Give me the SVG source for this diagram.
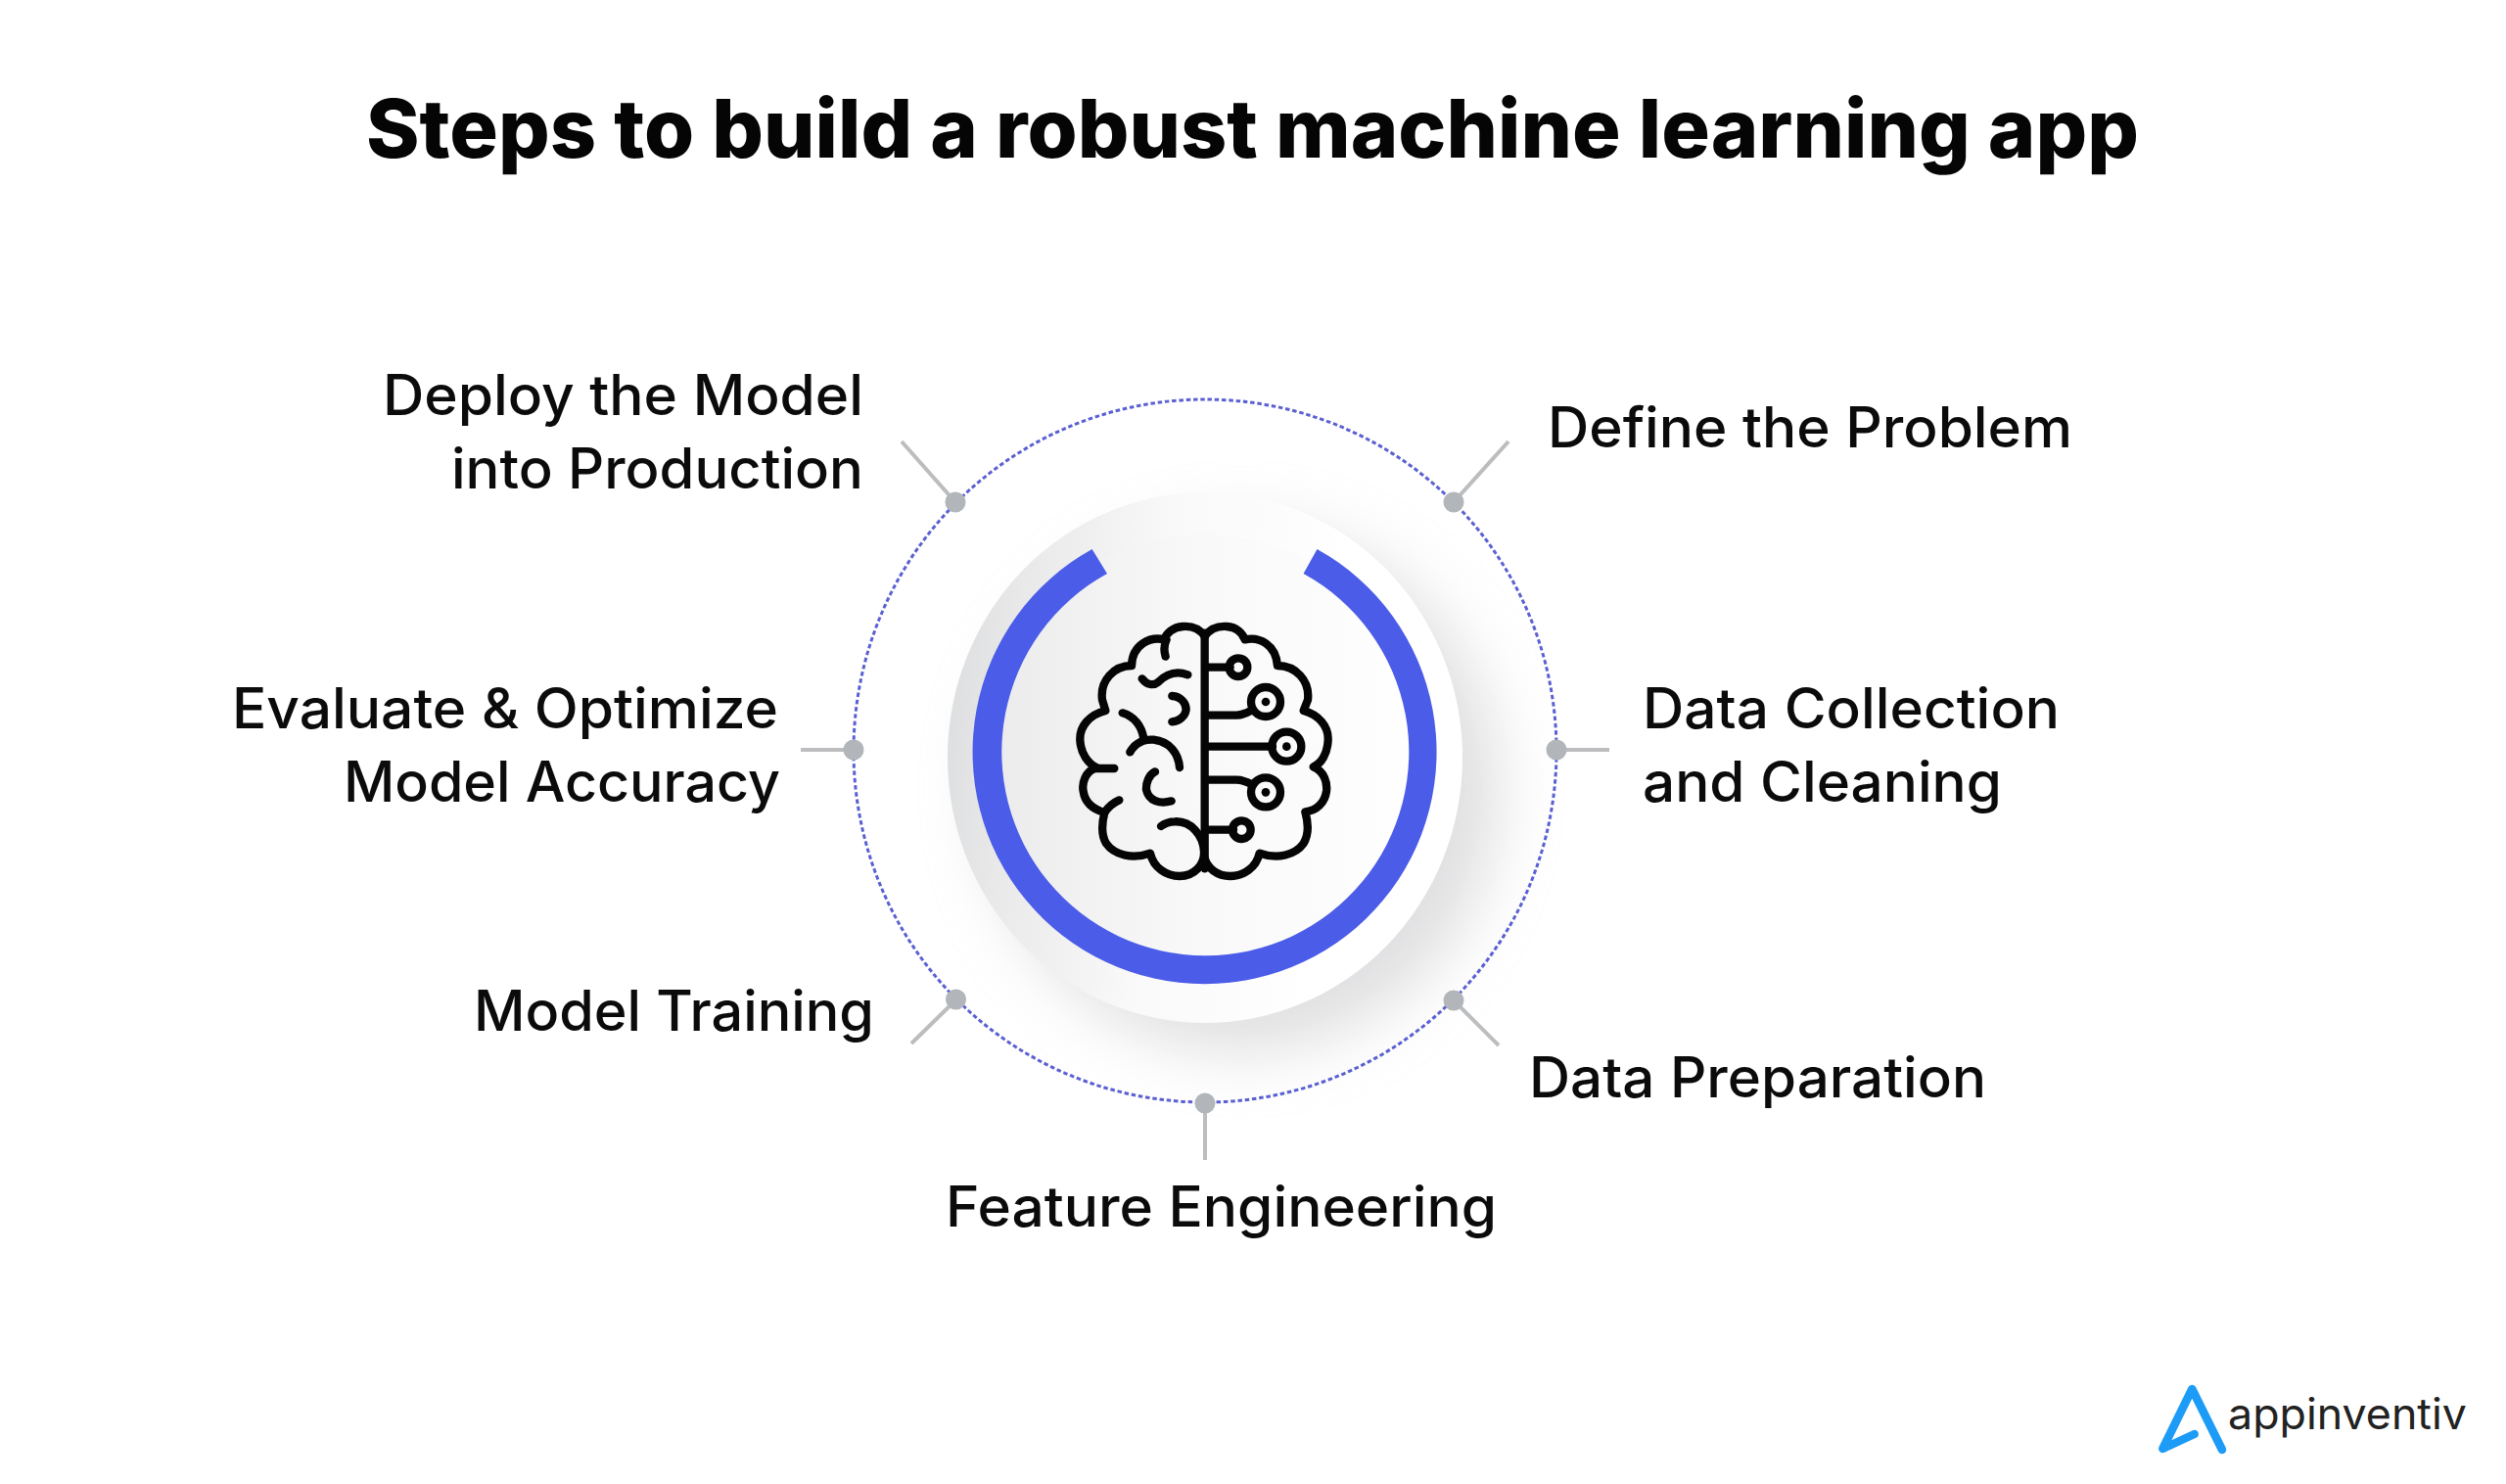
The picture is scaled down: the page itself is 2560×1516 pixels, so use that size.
<svg xmlns="http://www.w3.org/2000/svg" width="2560" height="1516" viewBox="0 0 2560 1516">
<style>
text{font-family:"Inter","Liberation Sans",sans-serif;fill:#0b0b0b}
.title{font-size:83px;font-weight:800;fill:#050505}
.lb{font-size:57px;font-weight:500}
.lead{stroke:#bcbdbf;stroke-width:4;fill:none}
.dot{fill:#b2b6ba}
.b{fill:none;stroke:#050505;stroke-width:25;stroke-linecap:round;stroke-linejoin:round}
</style>
<defs>
<linearGradient id="outer" x1="0" y1="0.45" x2="1" y2="0.55"><stop offset="0" stop-color="#dedfe0"/><stop offset="0.12" stop-color="#e9e9ea"/><stop offset="0.4" stop-color="#f9f9fa"/><stop offset="0.75" stop-color="#ffffff"/></linearGradient>
<linearGradient id="inner" x1="0" y1="0.5" x2="1" y2="0.5"><stop offset="0" stop-color="#ebebec"/><stop offset="0.45" stop-color="#f8f8f9"/><stop offset="1" stop-color="#ffffff"/></linearGradient>
<filter id="sh" x="-30%" y="-30%" width="170%" height="170%"><feGaussianBlur stdDeviation="32"/></filter>
</defs>
<rect width="2560" height="1516" fill="#fff"/>
<text id="title" class="title" x="374" y="161" textLength="1811" lengthAdjust="spacingAndGlyphs">Steps to build a robust machine learning app</text>
<g id="hub">
<ellipse cx="1268" cy="806" rx="262" ry="268" fill="#bfc0c2" opacity="0.5" filter="url(#sh)"/>
<ellipse cx="1231" cy="774" rx="263" ry="271" fill="url(#outer)"/>
<circle cx="1231.5" cy="768" r="222" fill="url(#inner)"/>
<path d="M1115.6 561 A237 237 0 1 0 1345.5 561 L1331.6 586 A208 208 0 1 1 1131 586 Z" fill="#4b5ce8"/>
<g id="brain" transform="translate(1060 600) scale(.33333)">
<path class="b" d="M512 140V862"/>
<path class="b" d="M512 150C495 125 470 118 445 120C415 122 395 140 388 160C345 150 290 175 288 240C235 240 190 285 198 345L208 378C160 390 128 425 130 468C132 510 155 540 180 552C145 565 135 600 140 625C145 660 170 680 205 690C195 730 195 760 210 785C235 820 290 835 345 815C355 860 395 885 435 885C480 885 512 850 510 810C508 760 470 715 420 718C405 718 390 723 378 732"/>
<path class="b" d="M172 555H235M205 690C215 675 232 660 250 652M392 212C385 190 388 175 395 160M320 280C335 300 355 302 370 290C395 265 425 255 460 268M412 333C440 335 455 355 455 375C452 395 435 410 412 412M260 385C295 395 320 425 325 465M283 505C300 475 325 465 355 467C405 472 432 510 435 552M360 565C340 575 332 600 333 620C340 655 375 665 410 655"/>
<path class="b" d="M512 150C530 125 555 118 580 120C610 122 628 140 635 160C680 150 730 175 735 240C790 240 835 285 828 345L815 378C860 390 892 425 890 468C888 510 870 540 845 550C880 565 888 600 885 625C880 660 855 685 820 688C832 730 830 760 815 785C790 820 735 835 680 815C670 860 630 885 590 885C550 885 520 860 512 830"/>
<path class="b" d="M520 245H590M520 392H610Q630 392 660 375M520 488H720M520 590H610Q630 590 660 605M520 743H600"/>
<circle class="b" cx="615" cy="245" r="28"/><circle class="b" cx="699" cy="351" r="45"/><circle class="b" cx="763" cy="488" r="45"/><circle class="b" cx="699" cy="628" r="45"/><circle class="b" cx="625" cy="743" r="28"/>
<circle cx="699" cy="351" r="13" fill="#050505"/><circle cx="763" cy="488" r="13" fill="#050505"/><circle cx="699" cy="628" r="13" fill="#050505"/>
</g>
</g>
<g id="connectors">
<circle cx="1231" cy="767" r="359" fill="none" stroke="#5a60d2" stroke-width="3" stroke-dasharray="4.5 2.8"/>
<path class="lead" d="M976 513L921 451M1485 513L1541 451M1590 766H1644M1485 1022L1531 1068M1231 1127V1185M976 1022L931 1066M872 766H818"/>
</g>
<g id="n1"><circle class="dot" cx="1485" cy="513" r="10.5"/><text class="lb" x="1581" y="457" textLength="536" lengthAdjust="spacingAndGlyphs">Define the Problem</text></g>
<g id="n2"><circle class="dot" cx="1590" cy="766" r="10.5"/><text class="lb" x="1678" y="744" textLength="426" lengthAdjust="spacingAndGlyphs">Data Collection</text><text class="lb" x="1678" y="819" textLength="367" lengthAdjust="spacingAndGlyphs">and Cleaning</text></g>
<g id="n3"><circle class="dot" cx="1485" cy="1022" r="10.5"/><text class="lb" x="1562" y="1121" textLength="467" lengthAdjust="spacingAndGlyphs">Data Preparation</text></g>
<g id="n4"><circle class="dot" cx="1231" cy="1127" r="10.5"/><text class="lb" x="966" y="1253" textLength="563" lengthAdjust="spacingAndGlyphs">Feature Engineering</text></g>
<g id="n5"><circle class="dot" cx="976.5" cy="1021" r="10.5"/><text class="lb" x="484" y="1053" textLength="409" lengthAdjust="spacingAndGlyphs">Model Training</text></g>
<g id="n6"><circle class="dot" cx="872" cy="766" r="10.5"/><text class="lb" x="237" y="744" textLength="558" lengthAdjust="spacingAndGlyphs">Evaluate &amp; Optimize</text><text class="lb" x="351" y="819" textLength="446" lengthAdjust="spacingAndGlyphs">Model Accuracy</text></g>
<g id="n7"><circle class="dot" cx="976" cy="513" r="10.5"/><text class="lb" x="391" y="424" textLength="491" lengthAdjust="spacingAndGlyphs">Deploy the Model</text><text class="lb" x="461" y="499" textLength="421" lengthAdjust="spacingAndGlyphs">into Production</text></g>
<g id="logo"><path d="M2270 1481L2239.3 1419L2209.3 1480L2241.7 1465" fill="none" stroke="#1c9cf6" stroke-width="8.5" stroke-linecap="round" stroke-linejoin="round"/><text x="2276" y="1460" font-size="44" style="fill:#222;font-family:Inter,sans-serif" textLength="244" lengthAdjust="spacingAndGlyphs">appinventiv</text></g>
</svg>
